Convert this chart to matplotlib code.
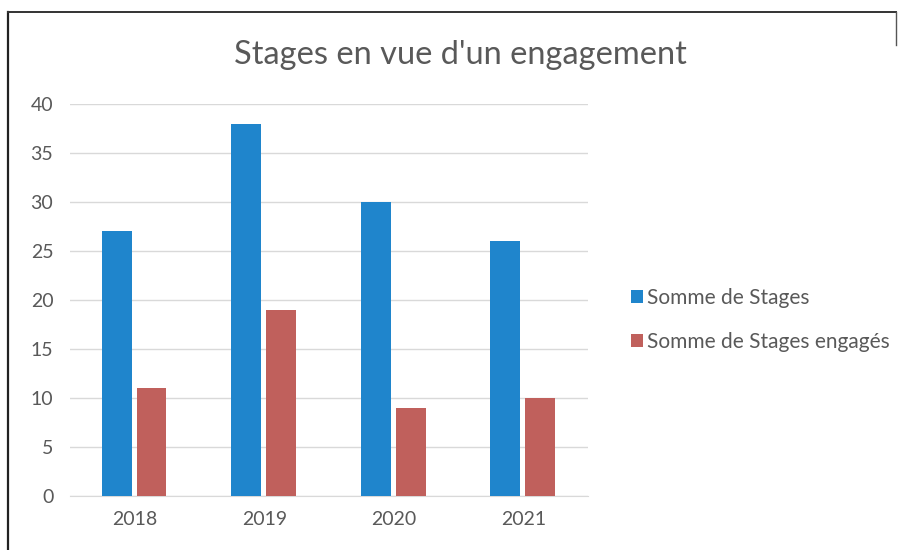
import matplotlib.pyplot as plt
import numpy as np
from matplotlib.lines import Line2D

years = ['2018', '2019', '2020', '2021']
stages = [27, 38, 30, 26]
stages_engages = [11, 19, 9, 10]

plt.rcParams['font.family'] = ['Lato', 'DejaVu Sans']
text_color = '#595959'

fig = plt.figure(figsize=(9.01, 5.5), dpi=100)
ax = fig.add_axes([0.0777, 0.0982, 0.575, 0.7127])

x = np.arange(len(years))
width = 0.23
b1 = ax.bar(x - 0.14, stages, width, color='#1f85cc', label='Somme de Stages', zorder=3)
b2 = ax.bar(x + 0.13, stages_engages, width, color='#c0605c', label='Somme de Stages engagés', zorder=3)

ax.set_xlim(-0.5, 3.5)
ax.set_ylim(0, 40)
ax.set_yticks(range(0, 41, 5))
ax.set_xticks(x)
ax.set_xticklabels(years)
ax.grid(axis='y', color='#d9d9d9', linewidth=1, zorder=0)
for s in ['top', 'right', 'left']:
    ax.spines[s].set_visible(False)
ax.spines['bottom'].set_color('#d9d9d9')
ax.tick_params(length=0, labelsize=14, labelcolor=text_color)
ax.tick_params(axis='y', pad=12)
ax.tick_params(axis='x', pad=11)

fig.text(0.511, 0.9, "Stages en vue d'un engagement", ha='center', va='center',
         fontsize=23.5, color=text_color)

fig.legend(handles=[b1, b2], loc='center left', bbox_to_anchor=(0.68, 0.418),
           frameon=False, fontsize=15, labelcolor=text_color,
           handlelength=0.55, handleheight=0.55, handletextpad=0.2, labelspacing=1.15)

# scanned chart border
top = 1 - 12 / 550
left = 8 / 901
right = 896 / 901
fig.add_artist(Line2D([left, left], [0, top], transform=fig.transFigure, color='#222222', lw=1.6))
fig.add_artist(Line2D([left, right], [top, top], transform=fig.transFigure, color='#333333', lw=1.4))
fig.add_artist(Line2D([right, right], [top, top - 0.06], transform=fig.transFigure, color='#555555', lw=1.0))

fig.savefig('out.png', dpi=100)
